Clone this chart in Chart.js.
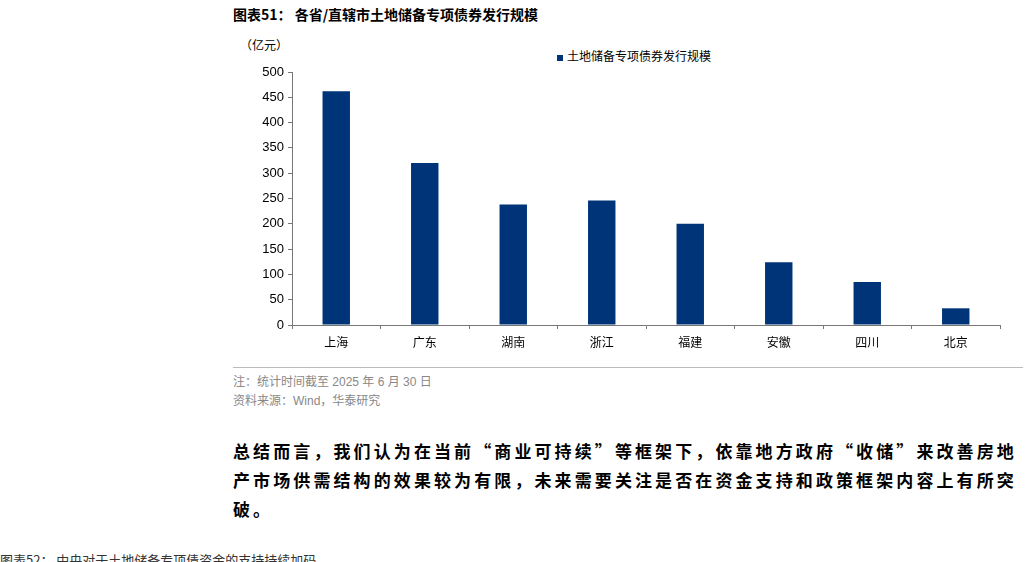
<!DOCTYPE html>
<html><head><meta charset="utf-8">
<script src="https://cdn.jsdelivr.net/npm/chart.js@4"></script>
<style>
body{margin:0;width:1028px;height:562px;background:#fff;position:relative;overflow:hidden;font-family:"Liberation Sans","Noto Sans CJK SC",sans-serif;color:#000}
.a{position:absolute;white-space:nowrap}
#title{left:233px;top:4px;font-size:14px;font-weight:bold;font-family:"Noto Sans CJK SC"}
#line{left:233px;top:367px;width:790px;height:0;border-top:1px solid #bbb}
.note{font-size:12px;color:#888;font-family:"Liberation Sans","Noto Sans CJK SC"}
.para{left:233px;font-size:17px;font-weight:bold;font-family:"Noto Sans CJK SC";letter-spacing:3.1px}
#wrap{position:absolute;left:233px;top:30px;width:790px;height:330px}
</style></head><body>
<div class="a" id="title">图表51：&nbsp;各省/直辖市土地储备专项债券发行规模</div>
<div class="a" style="left:240px;top:36px;font-size:12px;font-family:'Noto Sans CJK SC'">（亿元）</div>
<div class="a" style="left:557px;top:47px;font-size:12px;font-family:'Noto Sans CJK SC'"><span style="display:inline-block;width:6px;height:6px;background:#003479;margin-right:4px;vertical-align:middle"></span>土地储备专项债券发行规模</div>
<div id="wrap"><canvas id="c"></canvas></div>
<div class="a" id="line"></div>
<div class="a note" style="left:233px;top:372px">注：统计时间截至 2025 年 6 月 30 日</div>
<div class="a note" style="left:233px;top:391px">资料来源：Wind，华泰研究</div>
<div class="a para" style="top:438px">总结而言，我们认为在当前“商业可持续”等框架下，依靠地方政府“收储”来改善房地</div>
<div class="a para" style="top:467px">产市场供需结构的效果较为有限，未来需要关注是否在资金支持和政策框架内容上有所突</div>
<div class="a para" style="top:496px">破。</div>
<div class="a" style="left:0;top:550px;font-size:13px;color:#333;font-family:'Noto Sans CJK SC'">图表52：&nbsp;中央对于土地储备专项债资金的支持持续加码</div>
<script>
const categories=["上海","广东","湖南","浙江","福建","安徽","四川","北京"];
const values=[462,320,238,246,200,124,85,33];
const yTicks=[0,50,100,150,200,250,300,350,400,450,500];
new Chart(document.getElementById('c'),{type:'bar',
data:{labels:categories,datasets:[{label:'土地储备专项债券发行规模',data:values,backgroundColor:'#003479',barPercentage:0.31,categoryPercentage:1}]},
options:{responsive:true,maintainAspectRatio:false,animation:false,
layout:{padding:{top:42,right:23,left:0,bottom:0}},
plugins:{legend:{display:false},tooltip:{enabled:false}},
scales:{
x:{grid:{drawOnChartArea:false,tickLength:4,color:'#777'},border:{color:'#777'},ticks:{color:'#000',font:{size:12,family:'Noto Sans CJK SC'},padding:6},afterFit(s){s.height=35}},
y:{min:0,max:500,afterBuildTicks(s){s.ticks=yTicks.map(v=>({value:v}))},grid:{drawOnChartArea:false,tickLength:4,color:'#777'},border:{color:'#777'},ticks:{color:'#000',font:{size:13,family:'Liberation Sans'},padding:4},afterFit(s){s.width=59}}
}}});
</script>
</body></html>
